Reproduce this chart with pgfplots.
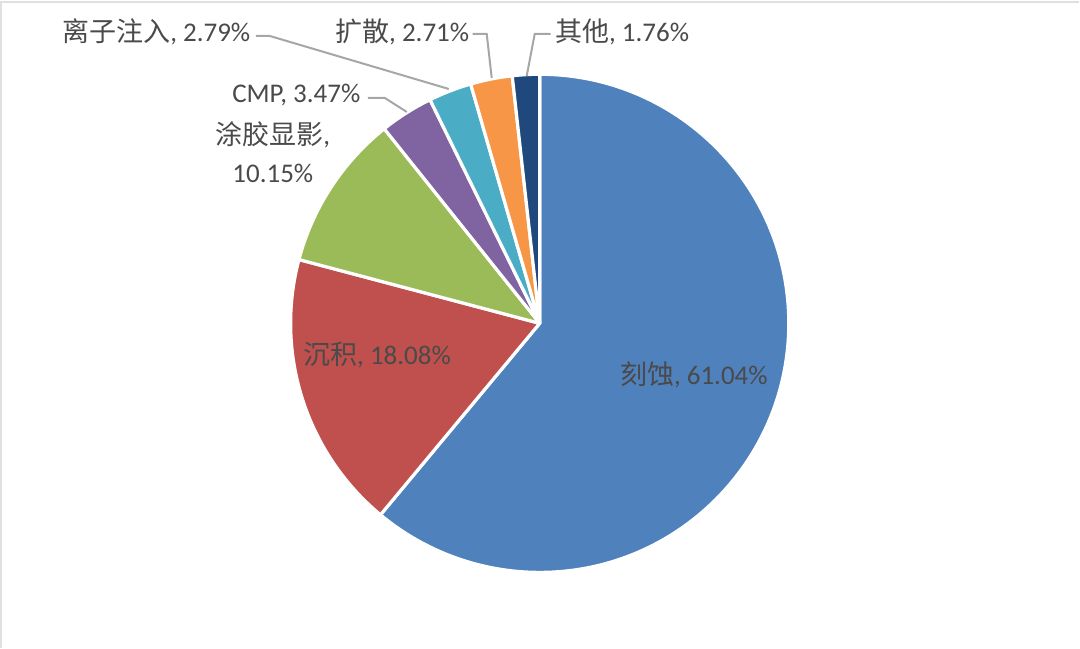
\documentclass[border=0pt]{standalone}
\usepackage{pgfplots}
\pgfplotsset{compat=1.18}
\usepackage{pgfplotstable}
\usepackage{fontspec}
\setmainfont{Carlito}
\newfontfamily\cjk{Noto Sans CJK SC}

\definecolor{c0}{HTML}{4F81BD}
\definecolor{c1}{HTML}{C0504D}
\definecolor{c2}{HTML}{9BBB59}
\definecolor{c3}{HTML}{8064A2}
\definecolor{c4}{HTML}{4BACC6}
\definecolor{c5}{HTML}{F79646}
\definecolor{c6}{HTML}{1F497D}
\definecolor{txt}{HTML}{4A4A4A}
\definecolor{lead}{HTML}{A6A6A6}

% share of each process step, clockwise from 12 o'clock
\pgfplotstableread{
step value
etch 61.04
depo 18.08
litho 10.15
cmp 3.47
implant 2.79
diffuse 2.71
other 1.76
}\piedata

\begin{document}
\begin{tikzpicture}
\begin{axis}[
  scale only axis,
  width=540pt, height=324pt,
  xmin=0, xmax=1080, ymin=0, ymax=648,
  y dir=reverse,
  hide axis,
  clip=false,
]
\path (rel axis cs:0,0) rectangle (rel axis cs:1,1);
\draw[black!12, line width=0.6pt] (axis cs:1,648) -- (axis cs:1,2) -- (axis cs:1080,2);

\pgfplotstablegetrowsof{\piedata}
\pgfmathtruncatemacro\nrows{\pgfplotsretval-1}
\xdef\cum{0}
\pgfplotsinvokeforeach{0,...,\nrows}{
  \pgfplotstablegetelem{#1}{value}\of\piedata
  \let\val\pgfplotsretval
  \pgfmathsetmacro\angA{90-3.6*\cum}
  \pgfmathsetmacro\angB{90-3.6*(\cum+\val)}
  \pgfmathsetmacro\newcum{\cum+\val}
  \xdef\cum{\newcum}
  \edef\temp{\noexpand\fill[c#1, draw=white, line width=1.6pt, line join=round]
    (axis cs:540,323.5) -- ++(\angA:124.6pt)
    arc[start angle=\angA, end angle=\angB, radius=124.6pt] -- cycle;}
  \temp
}

% leader lines
\draw[lead, line width=1pt] (axis cs:256,36) -- (axis cs:270,36) -- (axis cs:449,89);
\draw[lead, line width=1pt] (axis cs:473,34) -- (axis cs:487,34) -- (axis cs:492,78);
\draw[lead, line width=1pt] (axis cs:551,34) -- (axis cs:535,34) -- (axis cs:527,76);
\draw[lead, line width=1pt] (axis cs:368,98) -- (axis cs:385,98) -- (axis cs:407,112);

\tikzset{lbl/.style={text=txt, font=\fontsize{13.5}{17}\selectfont, inner sep=0pt}}
\node[lbl, anchor=west] at (axis cs:62,32) {{\cjk 离子注入}, 2.79\%};
\node[lbl, anchor=west] at (axis cs:335,32) {{\cjk 扩散}, 2.71\%};
\node[lbl, anchor=west] at (axis cs:555,32) {{\cjk 其他}, 1.76\%};
\node[lbl, anchor=west] at (axis cs:232,95) {CMP, 3.47\%};
\node[lbl, align=center] at (axis cs:273,152) {{\cjk 涂胶显影}, \\[2pt] 10.15\%};
\node[lbl, anchor=west] at (axis cs:303,355) {{\cjk 沉积}, 18.08\%};
\node[lbl, anchor=west] at (axis cs:620,375) {{\cjk 刻蚀}, 61.04\%};
\end{axis}
\end{tikzpicture}
\end{document}
